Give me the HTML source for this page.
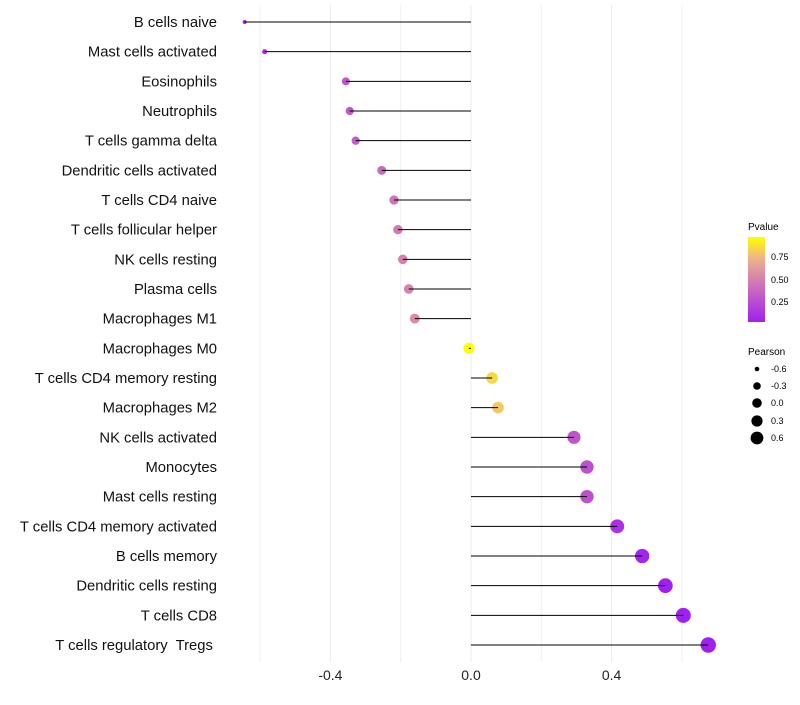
<!DOCTYPE html>
<html><head><meta charset="utf-8"><style>
body{margin:0;background:#fff;font-family:"Liberation Sans",sans-serif}
text{white-space:pre}
</style></head><body>
<svg id="chart" width="800" height="700" xmlns="http://www.w3.org/2000/svg">
<defs><linearGradient id="pg" x1="0" y1="1" x2="0" y2="0">
<stop offset="0" stop-color="#a020f0"/><stop offset="0.5" stop-color="#d67fb0"/><stop offset="0.75" stop-color="#eeb488"/><stop offset="1" stop-color="#ffff00"/></linearGradient></defs>
<g id="grid"></g><g id="marks"></g><g id="labels"></g>
<g font-size="9" fill="#000">
<text x="748" y="230" font-size="10">Pvalue</text>
<rect x="748" y="237" width="17" height="85" fill="url(#pg)"/>
<text x="771" y="260">0.75</text>
<text x="771" y="283">0.50</text>
<text x="771" y="305">0.25</text>
</g>
<g font-size="9">
<text x="748" y="355" font-size="10">Pearson</text>
<circle cx="757" cy="369" r="2.3"/><text x="771" y="372">-0.6</text>
<circle cx="757" cy="386" r="3.8"/><text x="771" y="389">-0.3</text>
<circle cx="757" cy="403" r="4.8"/><text x="771" y="406">0.0</text>
<circle cx="757" cy="421" r="5.6"/><text x="771" y="424">0.3</text>
<circle cx="757" cy="438" r="6.4"/><text x="771" y="441">0.6</text>
</g>
</svg>
<script>
const categories=["B cells naive","Mast cells activated","Eosinophils","Neutrophils","T cells gamma delta","Dendritic cells activated","T cells CD4 naive","T cells follicular helper","NK cells resting","Plasma cells","Macrophages M1","Macrophages M0","T cells CD4 memory resting","Macrophages M2","NK cells activated","Monocytes","Mast cells resting","T cells CD4 memory activated","B cells memory","Dendritic cells resting","T cells CD8","T cells regulatory  Tregs "];
const pearson=[-0.644,-0.587,-0.356,-0.345,-0.328,-0.254,-0.219,-0.208,-0.194,-0.177,-0.160,-0.006,0.060,0.077,0.293,0.330,0.330,0.416,0.487,0.553,0.604,0.675];
const pvalues=[0.05,0.1,0.3,0.3,0.32,0.4,0.45,0.47,0.5,0.52,0.55,0.98,0.85,0.8,0.3,0.27,0.27,0.12,0.06,0.03,0.02,0.01];
const xTicks=[-0.4,0.0,0.4];
const xMinor=[-0.6,-0.2,0.2,0.6];
const NS="http://www.w3.org/2000/svg";
const X=v=>471+v*351.5;
const Y=i=>22+i*(623/21);
const R=v=>Math.sqrt(Math.max(1,4+42*(v+0.644)));
function lerp(a,b,t){return a.map((x,k)=>Math.round(x+(b[k]-x)*t));}
const stops=[[0,[160,32,240]],[0.5,[214,127,176]],[0.75,[238,180,136]],[1,[255,255,0]]];
function col(p){p=Math.max(0,Math.min(1,(p-0.03)/0.94));for(let k=1;k<stops.length;k++){if(p<=stops[k][0]){const t=(p-stops[k-1][0])/(stops[k][0]-stops[k-1][0]);return "rgb("+lerp(stops[k-1][1],stops[k][1],t).join(",")+")";}}return "rgb(255,255,0)";}
function mk(t,a,p){const e=document.createElementNS(NS,t);for(const k in a)e.setAttribute(k,a[k]);p.appendChild(e);return e;}
const grid=document.getElementById('grid'),marks=document.getElementById('marks'),labels=document.getElementById('labels');
xMinor.forEach(v=>{const l=mk('line',{x1:X(v),x2:X(v),y1:5,y2:662,stroke:'#f0f0f0','stroke-width':1},grid);

});
xTicks.forEach(v=>{const l=mk('line',{x1:X(v),x2:X(v),y1:5,y2:662,stroke:'#ebebeb','stroke-width':1},grid);


const t=mk('text',{x:X(v),y:680,'text-anchor':'middle','font-size':14,fill:'#222'},labels);t.textContent=v.toFixed(1);

});
categories.forEach((c,i)=>{const y=Y(i),v=pearson[i];
const ci=mk('circle',{cx:X(v),cy:y,r:R(v),fill:col(pvalues[i])},marks);


const l=mk('line',{x1:X(v),x2:X(0),y1:y,y2:y,stroke:'#000','stroke-width':1},marks);


const t=mk('text',{x:217,y:y+5,'text-anchor':'end','font-size':14.8,fill:'#111'},labels);t.textContent=c;

});
</script>
</body></html>
